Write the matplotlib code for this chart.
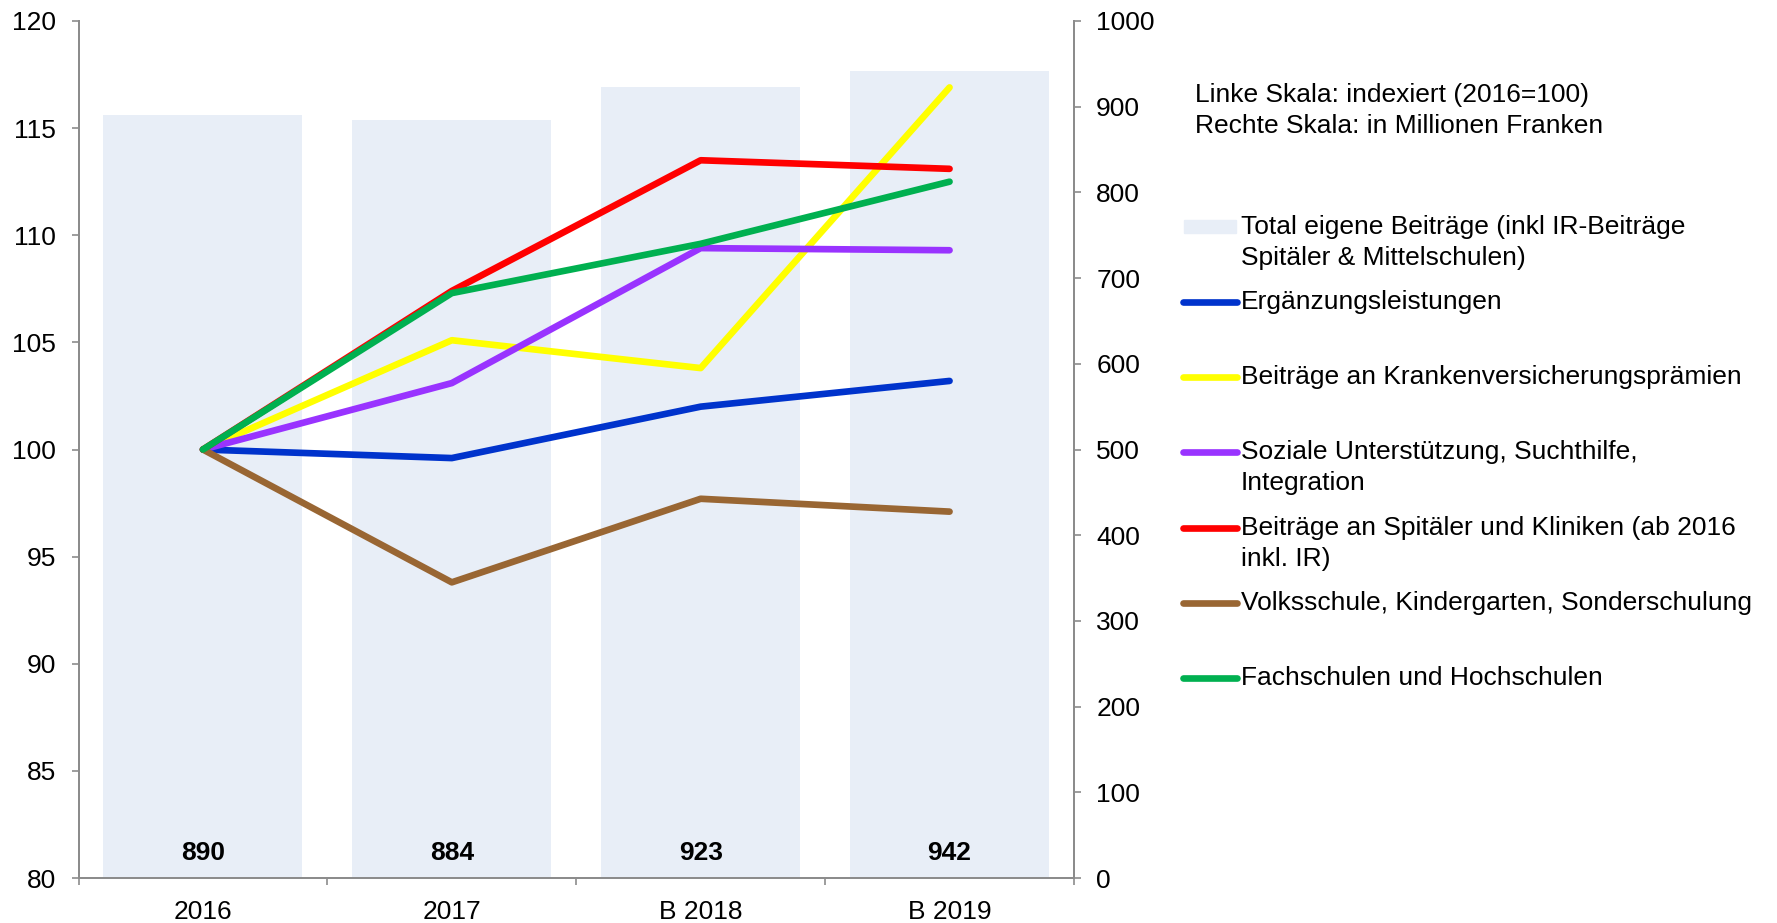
import matplotlib
matplotlib.use("Agg")
import matplotlib.pyplot as plt
from matplotlib.lines import Line2D
from matplotlib.patches import Rectangle

plt.rcParams["font.family"] = ["Liberation Sans", "DejaVu Sans"]

# ---- data -------------------------------------------------------------------------------
years = ["2016", "2017", "B 2018", "B 2019"]
total_mio = [890, 884, 923, 942]          # right scale, Mio. Franken

ergaenzung = [100, 99.6, 102.0, 103.2]
kv_praemien = [100, 105.1, 103.8, 116.9]
soziale = [100, 103.1, 109.4, 109.3]
spitaeler = [100, 107.4, 113.5, 113.1]
volksschule = [100, 93.8, 97.7, 97.1]
fachschulen = [100, 107.3, 109.6, 112.5]

series = [
    ("Ergänzungsleistungen", ergaenzung, "#0033CC"),
    ("Beiträge an Krankenversicherungsprämien", kv_praemien, "#FFFF00"),
    ("Soziale Unterstützung, Suchthilfe,\nIntegration", soziale, "#9933FF"),
    ("Beiträge an Spitäler und Kliniken (ab 2016\ninkl. IR)", spitaeler, "#FF0000"),
    ("Volksschule, Kindergarten, Sonderschulung", volksschule, "#996633"),
    ("Fachschulen und Hochschulen", fachschulen, "#00B050"),
]
bar_label = "Total eigene Beiträge (inkl IR-Beiträge\nSpitäler & Mittelschulen)"
BAR_C = "#E8EEF7"
AX_C = "#8C8C8C"
FS = 19
LW = 4.8

W, H = 1777, 923
fig = plt.figure(figsize=(W / 100, H / 100), dpi=100)
ax = fig.add_axes([78.5 / W, 1 - 878 / H, (1074 - 78.5) / W, (878 - 21) / H])
ax2 = ax.twinx()
ax.set_zorder(ax2.get_zorder() + 1)
ax.patch.set_visible(False)

x = list(range(len(years)))

# bars on the right scale
ax2.bar(x, total_mio, width=0.8, color=BAR_C, zorder=1)
for xi, v in zip(x, total_mio):
    ax2.annotate(f"{v}", (xi, 0), textcoords="offset points", xytext=(0, 18),
                 ha="center", va="center", fontsize=FS, fontweight="bold")
ax2.set_ylim(0, 1000)
ax2.set_yticks(range(0, 1001, 100))

# index lines on the left scale
for name, vals, col in series:
    ax.plot(x, vals, color=col, linewidth=LW, solid_capstyle="round",
            solid_joinstyle="round", zorder=3)
ax.set_ylim(80, 120)
ax.set_yticks(range(80, 121, 5))
ax.set_xlim(-0.5, len(years) - 0.5)
ax.set_xticks(x)
ax.set_xticklabels(years)
ax.set_xticks([i - 0.5 for i in range(len(years) + 1)], minor=True)

for a in (ax, ax2):
    a.spines["top"].set_visible(False)
    for s in ("left", "right", "bottom"):
        a.spines[s].set_color(AX_C)
        a.spines[s].set_linewidth(1.4)
    a.tick_params(axis="y", direction="out", length=5, width=1.2, color=AX_C,
                  labelsize=FS, pad=11)
ax.tick_params(axis="x", which="major", length=0, labelsize=FS, pad=16)
ax.tick_params(axis="x", which="minor", length=5, width=1.2, color=AX_C, direction="out")

# ---- legend / notes (placed by hand, fixed row height like the original) ----------------
def fx(px): return px / W
def fy(py): return 1 - py / H

LINE_H = 31  # px between wrapped lines


def label(text, yy):
    for k, part in enumerate(text.split("\n")):
        fig.text(fx(1241), fy(yy + k * LINE_H), part, fontsize=FS, va="center")


fig.text(fx(1195), fy(95), "Linke Skala: indexiert (2016=100)", fontsize=FS, va="center")
fig.text(fx(1195), fy(126), "Rechte Skala: in Millionen Franken", fontsize=FS, va="center")

rows_y = [227, 302, 377, 452, 528, 603, 678]
fig.add_artist(Rectangle((fx(1184), fy(233)), fx(1236) - fx(1184), fy(220) - fy(233),
                         transform=fig.transFigure, color=BAR_C))
label(bar_label, rows_y[0])
for (name, vals, col), yy in zip(series, rows_y[1:]):
    fig.add_artist(Line2D([fx(1183), fx(1237)], [fy(yy), fy(yy)], color=col,
                          linewidth=LW, solid_capstyle="round", transform=fig.transFigure))
    label(name, yy)

fig.savefig("out.png", dpi=100)
